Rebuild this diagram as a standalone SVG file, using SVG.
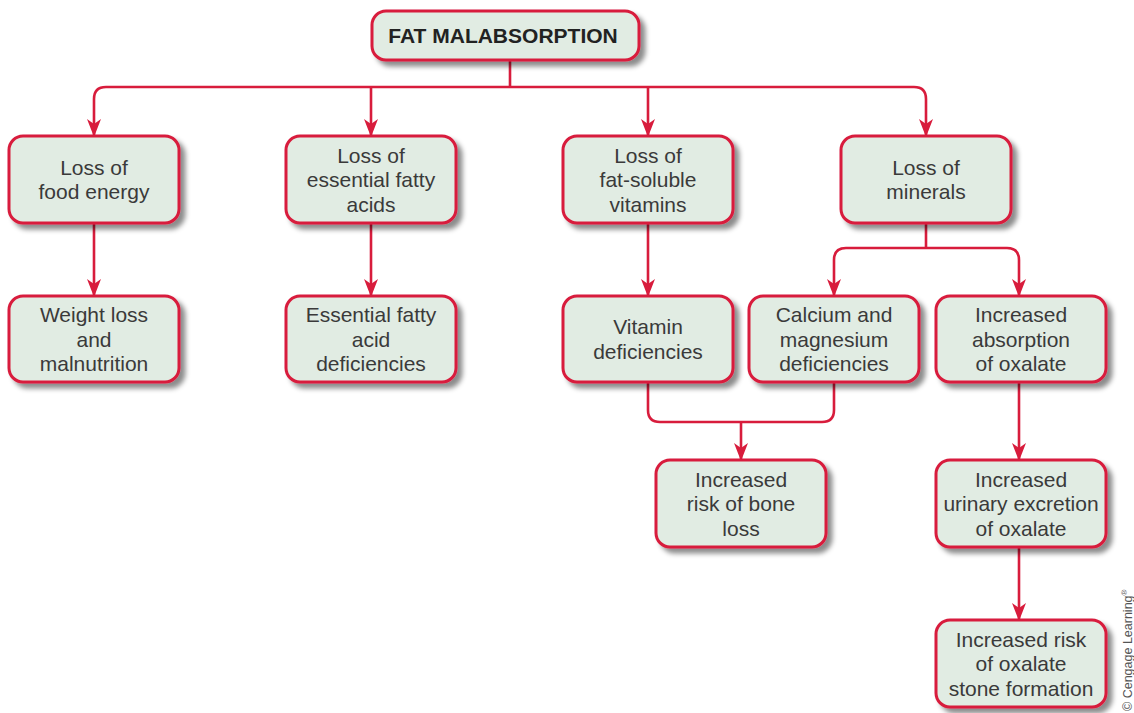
<svg xmlns="http://www.w3.org/2000/svg" width="1134" height="713" viewBox="0 0 1134 713">
  <defs>
    <filter id="sh" x="-10%" y="-10%" width="130%" height="140%">
      <feDropShadow dx="5" dy="5" stdDeviation="2.5" flood-color="#000" flood-opacity="0.45"/>
    </filter>
    <marker id="ah" markerUnits="userSpaceOnUse" markerWidth="18" markerHeight="14" viewBox="0 0 18 14" refX="17" refY="7" orient="auto">
      <path d="M0,0 L18,7 L0,14 L5,7 z" fill="#d81c3c"/>
    </marker>
    <style>
      .box { fill: #e1ece3; stroke: #d81c3c; stroke-width: 3; filter: url(#sh); }
      .t { font-family: "Liberation Sans", Arial, sans-serif; font-size: 21px; fill: #3a3a3a; text-anchor: middle; }
      .tb { font-family: "Liberation Sans", Arial, sans-serif; font-size: 21px; font-weight: bold; fill: #222; text-anchor: middle; }
      .c { fill: none; stroke: #d81c3c; stroke-width: 2.6; }
      .a { marker-end: url(#ah); }
      .cr { font-family: "Liberation Sans", Arial, sans-serif; font-size: 12.5px; fill: #555; }
    </style>
  </defs>
  <rect width="1134" height="713" fill="#ffffff"/>

  <g id="connectors">
    <path class="c" d="M510,60 V87"/>
    <path class="c a" d="M510,87 H106 Q94,87 94,99 V136"/>
    <path class="c a" d="M510,87 H914 Q926,87 926,99 V136"/>
    <path class="c a" d="M371,87 V136"/>
    <path class="c a" d="M648,87 V136"/>
    <path class="c a" d="M94,223 V296"/>
    <path class="c a" d="M371,223 V296"/>
    <path class="c a" d="M648,223 V296"/>
    <path class="c" d="M926,223 V248"/>
    <path class="c a" d="M926,248 H846 Q834,248 834,260 V296"/>
    <path class="c a" d="M926,248 H1007 Q1019,248 1019,260 V296"/>
    <path class="c" d="M648,382 V410 Q648,422 660,422 H822 Q834,422 834,410 V382"/>
    <path class="c a" d="M741,422 V460"/>
    <path class="c a" d="M1019,382 V460"/>
    <path class="c a" d="M1019,547 V620"/>
  </g>

  <g id="n0">
    <rect class="box" x="372" y="11" width="267" height="49" rx="14"/>
    <text class="tb" x="503" y="43">FAT MALABSORPTION</text>
  </g>
  <g id="n1">
    <rect class="box" x="9" y="136" width="170" height="87" rx="14"/>
    <text class="t" x="94" y="174.75">Loss of</text>
    <text class="t" x="94" y="199.25">food energy</text>
  </g>
  <g id="n2">
    <rect class="box" x="286" y="136" width="170" height="87" rx="14"/>
    <text class="t" x="371" y="162.5">Loss of</text>
    <text class="t" x="371" y="187">essential fatty</text>
    <text class="t" x="371" y="211.5">acids</text>
  </g>
  <g id="n3">
    <rect class="box" x="563" y="136" width="170" height="87" rx="14"/>
    <text class="t" x="648" y="162.5">Loss of</text>
    <text class="t" x="648" y="187">fat-soluble</text>
    <text class="t" x="648" y="211.5">vitamins</text>
  </g>
  <g id="n4">
    <rect class="box" x="841" y="136" width="170" height="87" rx="14"/>
    <text class="t" x="926" y="174.75">Loss of</text>
    <text class="t" x="926" y="199.25">minerals</text>
  </g>
  <g id="n5">
    <rect class="box" x="9" y="296" width="170" height="86" rx="14"/>
    <text class="t" x="94" y="322">Weight loss</text>
    <text class="t" x="94" y="346.5">and</text>
    <text class="t" x="94" y="371">malnutrition</text>
  </g>
  <g id="n6">
    <rect class="box" x="286" y="296" width="170" height="86" rx="14"/>
    <text class="t" x="371" y="322">Essential fatty</text>
    <text class="t" x="371" y="346.5">acid</text>
    <text class="t" x="371" y="371">deficiencies</text>
  </g>
  <g id="n7">
    <rect class="box" x="563" y="296" width="170" height="86" rx="14"/>
    <text class="t" x="648" y="334.25">Vitamin</text>
    <text class="t" x="648" y="358.75">deficiencies</text>
  </g>
  <g id="n8">
    <rect class="box" x="749" y="296" width="170" height="86" rx="14"/>
    <text class="t" x="834" y="322">Calcium and</text>
    <text class="t" x="834" y="346.5">magnesium</text>
    <text class="t" x="834" y="371">deficiencies</text>
  </g>
  <g id="n9">
    <rect class="box" x="936" y="296" width="170" height="86" rx="14"/>
    <text class="t" x="1021" y="322">Increased</text>
    <text class="t" x="1021" y="346.5">absorption</text>
    <text class="t" x="1021" y="371">of oxalate</text>
  </g>
  <g id="n10">
    <rect class="box" x="656" y="460" width="170" height="87" rx="14"/>
    <text class="t" x="741" y="486.5">Increased</text>
    <text class="t" x="741" y="511">risk of bone</text>
    <text class="t" x="741" y="535.5">loss</text>
  </g>
  <g id="n11">
    <rect class="box" x="936" y="460" width="170" height="87" rx="14"/>
    <text class="t" x="1021" y="486.5">Increased</text>
    <text class="t" x="1021" y="511">urinary excretion</text>
    <text class="t" x="1021" y="535.5">of oxalate</text>
  </g>
  <g id="n12">
    <rect class="box" x="936" y="620" width="170" height="87" rx="14"/>
    <text class="t" x="1021" y="646.5">Increased risk</text>
    <text class="t" x="1021" y="671">of oxalate</text>
    <text class="t" x="1021" y="695.5">stone formation</text>
  </g>

  <text class="cr" transform="translate(1132,711) rotate(-90)">© Cengage Learning<tspan font-size="8" dy="-5">®</tspan></text>
</svg>
